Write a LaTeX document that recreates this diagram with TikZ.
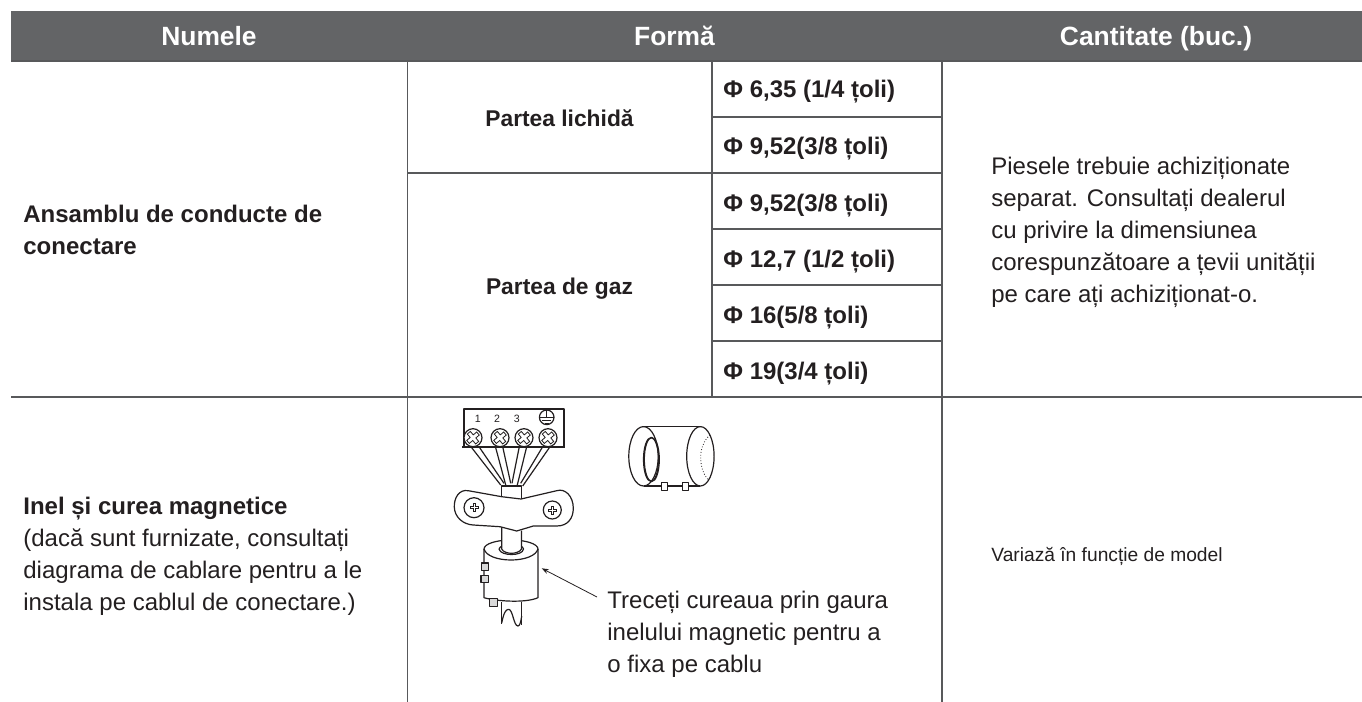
\documentclass[tikz,border=0pt]{standalone}
\usepackage{fontspec}
\setmainfont{Liberation Sans}
\usetikzlibrary{arrows.meta}
\definecolor{hdr}{HTML}{636466}
\definecolor{ln}{HTML}{231F20}
\definecolor{gridc}{HTML}{58595B}
\tikzset{
  x=0.5pt,y=-0.5pt,
  hdrtxt/.style={text=white,font=\fontsize{13.2pt}{15pt}\selectfont\bfseries,anchor=base,inner sep=0},
  subbold/.style={text=ln,font=\fontsize{11.4pt}{16pt}\selectfont\bfseries,inner sep=0,anchor=base},
  bold/.style={text=ln,font=\fontsize{12pt}{16pt}\selectfont\bfseries,inner sep=0,anchor=base west},
  body/.style={text=ln,font=\fontsize{12pt}{16pt}\selectfont,inner sep=0,align=left,anchor=north west},
  grid/.style={draw=gridc,line width=0.6pt},
  art/.style={draw=ln,line width=0.6pt,line join=round},
  thinart/.style={draw=ln,line width=0.4pt},
}
\begin{document}
\begin{tikzpicture}
\useasboundingbox (0,0) rectangle (1362,702);
\fill[hdr] (11,11) rectangle (1362,61);
\draw[grid] (11,61) -- (1362,61);
\draw[grid] (11,397) -- (1362,397);
\draw[grid] (407.5,61) -- (407.5,702);
\draw[grid] (942,61) -- (942,702);
\draw[grid] (712,61) -- (712,397);
\draw[grid] (407.5,173) -- (942,173);
\draw[grid] (712,117) -- (942,117);
\draw[grid] (712,229) -- (942,229);
\draw[grid] (712,285) -- (942,285);
\draw[grid] (712,341) -- (942,341);
\node[hdrtxt] (h1) at (209,45) {Numele};
\node[hdrtxt] (h2) at (674.5,45) {Formă};
\node[hdrtxt] (h3) at (1156,45) {Cantitate (buc.)};
\node[subbold] (l1) at (559.5,126) {Partea lichidă};
\node[subbold] (l2) at (559.5,294) {Partea de gaz};
\node[bold] (d1) at (723,97.7) {Φ 6,35 (1/4 țoli)};
\node[bold] (d2) at (723,154) {Φ 9,52(3/8 țoli)};
\node[bold] (d3) at (723,211) {Φ 9,52(3/8 țoli)};
\node[bold] (d4) at (723,267) {Φ 12,7 (1/2 țoli)};
\node[bold] (d5) at (723,323) {Φ 16(5/8 țoli)};
\node[bold] (d6) at (723,379) {Φ 19(3/4 țoli)};
\node[body,font=\fontsize{12pt}{16pt}\selectfont\bfseries] (n1) at (23,205.2) {Ansamblu de conducte de\\conectare};
\node[body] (n2) at (23,496.5) {\textbf{Inel și curea magnetice}\\(dacă sunt furnizate, consultați\\diagrama de cablare pentru a le\\instala pe cablul de conectare.)};
\node[body] (q1) at (991,156.8) {Piesele trebuie achiziționate\\separat. Consultați dealerul\\cu privire la dimensiunea\\corespunzătoare a țevii unității\\pe care ați achiziționat-o.};
\node[anchor=base west,text=ln,inner sep=0,font=\fontsize{9.6pt}{11pt}\selectfont] (q2) at (991,561) {Variază în funcție de model};
\node[body] (t1) at (607,591) {Treceți cureaua prin gaura\\inelului magnetic pentru a\\o fixa pe cablu};
% terminal block
\draw[art] (464,447) -- (464,409) -- (564,409) -- (564,447);
\draw[art] (462,447) -- (565,447);
\foreach \n/\xx in {1/477.7,2/497,3/516.7}
  \node[text=ln,inner sep=0,font=\fontsize{5.3pt}{6pt}\selectfont] (num\n) at (\xx,419) {\n};
\draw[art] (546.7,417.3) circle (7.3);
\draw[thinart] (546.7,410) -- (546.7,417.3) (539.4,417.3) -- (554,417.3) (542,420.5) -- (551.4,420.5) (544.5,423) -- (549,423);
% wires
\draw[art] (471.7,447.7) -- (500.7,485) (479,446.7) -- (504,483.3);
\draw[art] (495.7,447.7) -- (505.7,485) (502.7,446.7) -- (510.7,483.3);
\draw[art] (519.3,446.7) -- (512,483.3) (526.7,446.7) -- (517.3,485);
\draw[art] (542.7,446.7) -- (520.7,483.3) (550,446.7) -- (522.7,486);
\foreach \xx in {473,500,524,548}{
  \draw[art,fill=white] (\xx,437.7) circle (9);
  \draw[thinart,rotate around={40:(\xx,437.7)}] (\xx-6.5,435.7) -- (\xx-2,435.7) -- (\xx-2,431.2) -- (\xx+2,431.2) -- (\xx+2,435.7) -- (\xx+6.5,435.7) -- (\xx+6.5,439.7) -- (\xx+2,439.7) -- (\xx+2,444.2) -- (\xx-2,444.2) -- (\xx-2,439.7) -- (\xx-6.5,439.7) -- cycle;
}
% cable through clamp
\draw[art] (501.7,496.7) -- (501.7,486) -- (521.5,486) -- (521.5,499);
% ferrite top
\draw[art] (484,549) .. controls (484,544) and (496,540) .. (511,540) .. controls (526,540) and (538,544) .. (538,549);
\draw[art] (484,549) .. controls (486,556) and (498,560) .. (511,560) .. controls (524,560) and (536,556) .. (538,549);
\draw[art] (499,549) .. controls (500,553) and (506,554.5) .. (511.5,554.5) .. controls (517,554.5) and (523,553) .. (523.5,549) .. controls (523,546) and (519,545) .. (511.5,545) .. controls (504,545) and (500,546) .. (499,549) -- cycle;
% cable below clamp
\fill[white] (501.7,526) -- (501.7,549) .. controls (503,552) and (508,553.3) .. (511.5,553.3) .. controls (515,553.3) and (520,552) .. (521.5,549) -- (521.5,530) -- cycle;
\draw[art] (501.7,526.7) -- (501.7,549) .. controls (503,552) and (508,553.3) .. (511.5,553.3) .. controls (515,553.3) and (520,552) .. (521.5,549) -- (521.5,530.7);
% clamp
\draw[art,fill=white] (501.7,496.7) -- (468.3,490.7) .. controls (459,489) and (454,498) .. (454.3,507) .. controls (454.5,517) and (463,524.5) .. (473.3,525) -- (500,526.7) -- (516.7,531) -- (533.3,526) -- (556.7,526) .. controls (568,526) and (573.3,518) .. (573.3,508.3) .. controls (573.3,496) and (565,488) .. (556.7,490.7) -- (521,499) -- cycle;
\draw[art] (474,507.7) circle (10);
\draw[art] (552.3,510) circle (9);
\foreach \xx/\yy in {474/507.7,552.3/510}
  \draw[thinart] (\xx-4,\yy-1) -- (\xx-1,\yy-1) -- (\xx-1,\yy-4) -- (\xx+1,\yy-4) -- (\xx+1,\yy-1) -- (\xx+4,\yy-1) -- (\xx+4,\yy+1) -- (\xx+1,\yy+1) -- (\xx+1,\yy+4) -- (\xx-1,\yy+4) -- (\xx-1,\yy+1) -- (\xx-4,\yy+1) -- cycle;
% ferrite body
\draw[art] (484,549) -- (484,597.7) .. controls (495,601) and (525,603.5) .. (538,597.7) -- (538,549);
\draw[art] (501.7,602) -- (501.7,624) (521.7,602) -- (521.7,625);
\draw[art] (501.7,623) .. controls (503.5,614) and (505.5,609.3) .. (508.5,609.3) .. controls (513,609.3) and (513.5,626) .. (518,626) .. controls (520,626) and (521,621) .. (521.7,616);
\foreach \xx/\yy in {485/566.7,484.7/579,493.3/602.3}
  \draw[art,fill=black!15] (\xx-3.8,\yy-3.8) rectangle (\xx+3.8,\yy+3.8);
% arrow
\coordinate (arrowtail) at (597,597);
\coordinate (arrowhead) at (541.7,568.3);
\draw[thinart,-{Stealth[length=3.5pt,width=2.5pt]}] (arrowtail) -- (arrowhead);
% second ferrite
\draw[art] (643.5,426.7) -- (700.4,426.7);
\draw[art] (643.5,486) -- (700.4,486);
\draw[art] (643.5,456.3) ellipse (14.7 and 29.7);
\draw[art] (651,459.5) ellipse (7.5 and 22);
\draw[art] (651.8,459.5) ellipse (7.5 and 22);
\draw[art] (700.4,456.3) ellipse (13.7 and 29.7);
\draw[thinart,densely dotted] (710,435) .. controls (703,441) and (700.7,450) .. (700.7,457) .. controls (700.7,466) and (703,474) .. (708.3,480);
\draw[art,fill=white] (661.7,482.3) rectangle (667.7,490.7);
\draw[art,fill=white] (682.3,482.3) rectangle (688.3,490.7);
\end{tikzpicture}
\end{document}
